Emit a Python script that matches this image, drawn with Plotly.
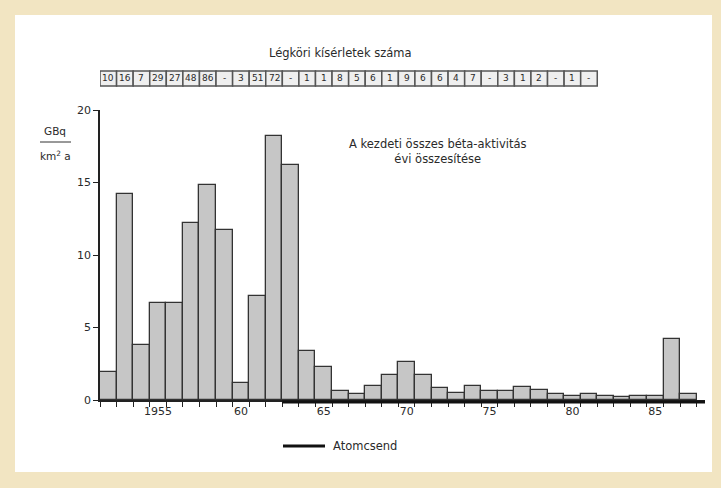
import plotly.graph_objects as go

years = list(range(1952, 1988))
activity = [1.9, 14.2, 3.8, 6.7, 6.7, 12.2, 14.8, 11.7, 1.2, 7.2, 18.2, 16.2,
            3.4, 2.3, 0.6, 0.4, 1.0, 1.7, 2.6, 1.7, 0.8, 0.5, 1.0, 0.6, 0.6,
            0.9, 0.7, 0.4, 0.3, 0.4, 0.3, 0.2, 0.3, 0.3, 4.2, 0.4]

test_years = list(range(1952, 1982))
test_counts = ["10", "16", "7", "29", "27", "48", "86", "-", "3", "51", "72",
               "-", "1", "1", "8", "5", "6", "1", "9", "6", "6", "4", "7", "-",
               "3", "1", "2", "-", "1", "-"]

# period of "atomic silence" (Atomcsend), drawn along the x axis
atom_years = [1962.5, 1988]

x_tick_vals = [1955, 1960, 1965, 1970, 1975, 1980, 1985]
x_tick_text = ["1955", "60", "65", "70", "75", "80", "85"]
y_tick_vals = [0, 5, 10, 15, 20]

FONT = "DejaVu Sans, Verdana, sans-serif"
TXT = "#2a2a2a"

fig = go.Figure()
fig.add_trace(go.Bar(x=years, y=activity, width=1,
                     marker=dict(color="#c6c6c6", line=dict(color="#333333", width=1.3)),
                     showlegend=False))

L, R, T, B = 100, 16, 110, 88
W, H = 721, 488
pw, ph = W - L - R, H - T - B


def px_x(p):
    return (p - L) / pw


def px_y(p):
    return (H - B - p) / ph


shapes = [dict(type="rect", xref="paper", yref="paper",
               x0=px_x(15), x1=px_x(712), y0=px_y(472), y1=px_y(15),
               fillcolor="white", line=dict(width=0), layer="below")]
annotations = []

# box row of test counts
for yr, c in zip(test_years, test_counts):
    shapes.append(dict(type="rect", xref="x", yref="paper",
                       x0=yr - 0.5, x1=yr + 0.5, y0=px_y(86), y1=px_y(71),
                       line=dict(color="#555555", width=1.5), fillcolor="#efefef"))
    annotations.append(dict(x=yr, y=px_y(78.5), xref="x", yref="paper",
                            xanchor="center", yanchor="middle",
                            text=c, showarrow=False,
                            font=dict(family=FONT, size=9, color=TXT)))


def note(xp, yp, text, size=11, anchor="center"):
    annotations.append(dict(x=px_x(xp), y=px_y(yp), xref="paper", yref="paper",
                            xanchor=anchor, yanchor="middle", align="center",
                            text=text, showarrow=False,
                            font=dict(family=FONT, size=size, color=TXT)))


note(340, 53, "Légköri kísérletek száma", 11.5)
note(437, 151, "A kezdeti összes béta-aktivitás<br>évi összesítése", 11.5)
note(55, 131, "GBq", 10.5)
note(55, 155, "km<sup>2</sup> a", 10.5)
note(331, 446, "Atomcsend", 11.5, "left")
shapes.append(dict(type="line", xref="paper", yref="paper",
                   x0=px_x(40), x1=px_x(71), y0=px_y(142), y1=px_y(142),
                   line=dict(color="#333333", width=1)))
# Atomcsend line along the axis
shapes.append(dict(type="line", xref="x", yref="paper",
                   x0=atom_years[0], x1=atom_years[1], y0=px_y(402), y1=px_y(402),
                   line=dict(color="#111111", width=3), layer="above"))
# legend line for Atomcsend
shapes.append(dict(type="line", xref="paper", yref="paper",
                   x0=px_x(283), x1=px_x(325), y0=px_y(446), y1=px_y(446),
                   line=dict(color="#111111", width=3)))

fig.update_layout(
    width=W, height=H,
    margin=dict(l=L, r=R, t=T, b=B),
    paper_bgcolor="#f2e5c2",
    plot_bgcolor="white",
    bargap=0,
    showlegend=False,
    font=dict(family=FONT, size=11, color=TXT),
    shapes=shapes,
    annotations=annotations,
    xaxis=dict(range=[1951.5, 1988], showgrid=False, zeroline=False,
               showline=True, linecolor="#222222", linewidth=1.5,
               tickvals=x_tick_vals, ticktext=x_tick_text, ticks="",
               minor=dict(tick0=1951.5, dtick=1, ticks="outside", ticklen=5,
                          tickcolor="#222222", showgrid=False),
               tickfont=dict(family=FONT, size=11, color=TXT)),
    yaxis=dict(range=[0, 20], showgrid=False, zeroline=False,
               showline=True, linecolor="#222222", linewidth=1.5,
               tickvals=y_tick_vals, ticks="outside", ticklen=5,
               tickcolor="#222222",
               tickfont=dict(family=FONT, size=11, color=TXT)),
)

fig.write_html("out.html")
